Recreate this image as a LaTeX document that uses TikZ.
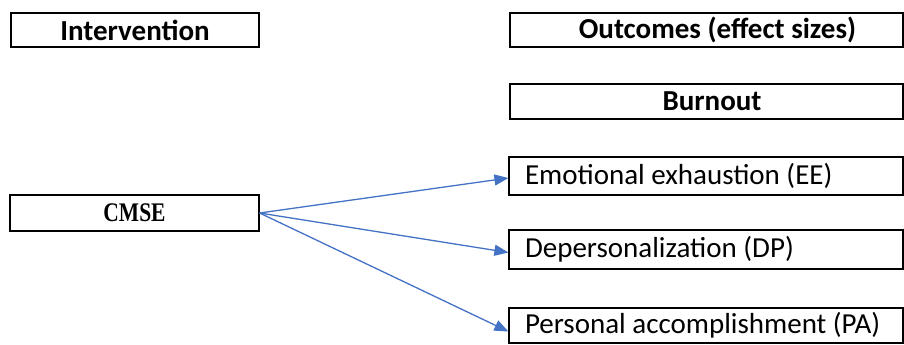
\documentclass[tikz,border=0pt]{standalone}
\usepackage{fontspec}
\setmainfont{Carlito}
\newfontfamily\cmsefont{Liberation Serif}
\usetikzlibrary{arrows.meta}
\definecolor{arrblue}{RGB}{68,114,196}
\begin{document}
\begin{tikzpicture}[x=1pt,y=-1pt,
  box/.style={draw=black, line width=1.2pt, inner sep=0pt, font=\fontsize{29}{34}\selectfont},
  hbox/.style={box, font=\fontsize{29}{34}\selectfont\bfseries},
  lbox/.style={box, text width=362pt, inner xsep=16pt, align=flush left},
  arr/.style={draw=arrblue, line width=1.3pt, -{Triangle[length=14pt,width=11pt]}}]
\useasboundingbox (0,0) rectangle (904,345);
\node[hbox, minimum width=248pt, minimum height=34pt] (interv) at (135,30) {Intervention};
\node[hbox, minimum width=393pt, minimum height=34pt] (outc) at (706.5,30) {\hspace*{22pt}Outcomes (effect sizes)};
\node[hbox, minimum width=393pt, minimum height=35pt] (burn) at (706.5,101.5) {\hspace*{11pt}Burnout};
\node[box, minimum width=249pt, minimum height=36pt, font=\cmsefont\fontsize{21.5}{26}\selectfont\bfseries] (cmse) at (134.5,213) {\scalebox{1}[1.25]{CMSE}};
\node[lbox, minimum height=38pt] (ee) at (706,176) {Emotional exhaustion (EE)};
\node[lbox, minimum height=39pt] (dp) at (706,249.5) {Depersonalization (DP)};
\node[lbox, minimum height=35pt] (pa) at (706,325.5) {Personal accomplishment (PA)};
\draw[arr] (cmse.east) -- ([yshift=-2pt]ee.west);
\draw[arr] (cmse.east) -- ([yshift=-3pt]dp.west);
\draw[arr] (cmse.east) -- ([yshift=-6pt]pa.west);
\end{tikzpicture}
\end{document}
